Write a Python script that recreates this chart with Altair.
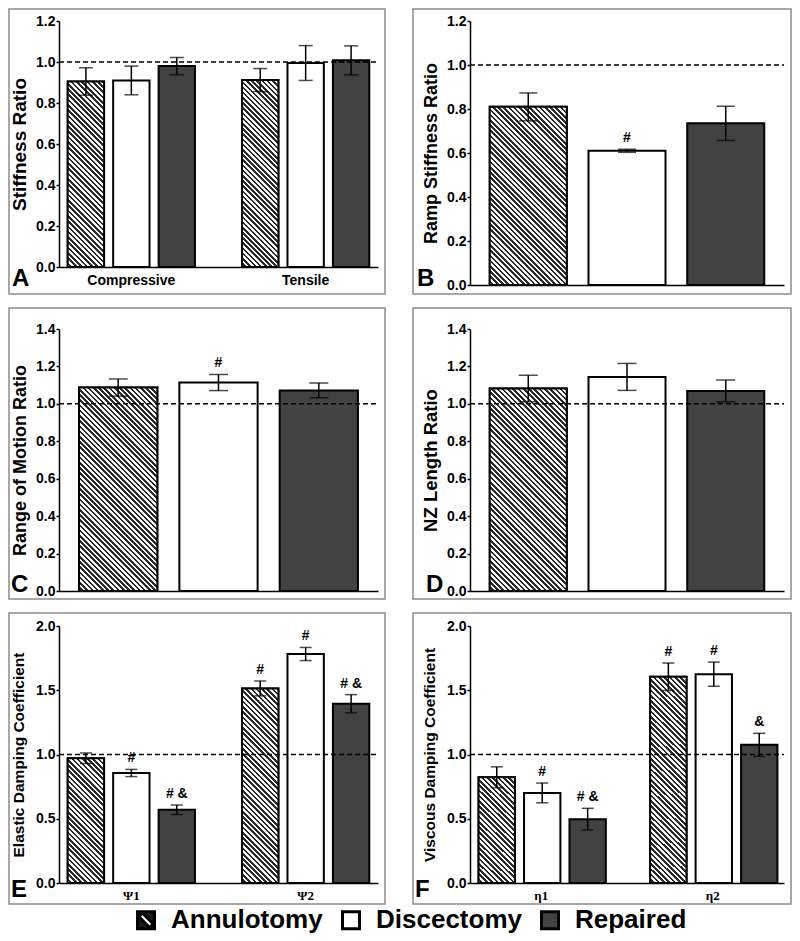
import math
import altair as alt
import pandas as pd

# ---------------- data ----------------
treatments = ["Annulotomy", "Discectomy", "Repaired"]
fill_colors = ["#1a1a1a", "#ffffff", "#424242"]
ref_line = [1.0]

# A  Stiffness ratio
a_groups = ["Compressive", "Tensile"]
a_means = [[0.905, 0.910, 0.980], [0.912, 0.995, 1.008]]
a_errs = [[0.067, 0.070, 0.042], [0.056, 0.085, 0.071]]
a_notes = [["", "", ""], ["", "", ""]]

# B  Ramp stiffness ratio
b_means = [0.810, 0.610, 0.735]
b_errs = [0.063, 0.007, 0.078]
b_notes = ["", "#", ""]

# C  Range of motion ratio
c_means = [1.087, 1.114, 1.072]
c_errs = [0.046, 0.043, 0.040]
c_notes = ["", "#", ""]

# D  NZ length ratio
d_means = [1.082, 1.144, 1.069]
d_errs = [0.071, 0.072, 0.058]
d_notes = ["", "", ""]

# E  Elastic damping coefficient
e_groups = ["Ψ1", "Ψ2"]
e_means = [[0.971, 0.856, 0.570], [1.514, 1.782, 1.395]]
e_errs = [[0.041, 0.028, 0.037], [0.058, 0.051, 0.071]]
e_notes = [["", "#", "# &"], ["#", "#", "# &"]]

# F  Viscous damping coefficient
f_groups = ["η1", "η2"]
f_means = [[0.823, 0.701, 0.497], [1.605, 1.625, 1.075]]
f_errs = [[0.081, 0.077, 0.084], [0.107, 0.094, 0.090]]
f_notes = [["", "#", "# &"], ["#", "#", "&"]]

FONT = "Liberation Sans"

# legend symbols: hatched icon = black square with a white "\" slit
ANN_ICON = ("M-1,-1L1,-1L1,1L-1,1Z"
            "M-0.85,-0.42L0.42,0.85L0.85,0.42L-0.42,-0.85Z")
legend_shapes = [ANN_ICON, "square", "square"]


def build_df(groups, means, errs, notes):
    rows = []
    for gi, g in enumerate(groups):
        for ti, t in enumerate(treatments):
            m = means[gi][ti]
            e = errs[gi][ti]
            rows.append(dict(cat=g, trt=t, mean=m, lo=m - e, hi=m + e, note=notes[gi][ti]))
    return pd.DataFrame(rows)


def hatch(w, h, period=3.7, frac=0.5, dark="#2a2a2a", light="#ffffff"):
    # stripes running "\" in screen space, gradient in bounding-box units
    k = (w + h) / (w * w + h * h)
    x2 = k * w
    y2 = 1 - k * h
    n = max(1, int(round((w + h) / math.sqrt(2) / period)))
    stops = []
    for i in range(n):
        a = round(i / n, 5)
        b = round((i + frac) / n, 5)
        c = round((i + 1) / n, 5)
        stops += [
            {"offset": a, "color": light},
            {"offset": b, "color": light},
            {"offset": b, "color": dark},
            {"offset": c, "color": dark},
        ]
    return {"gradient": "linear", "x1": 0, "y1": 1, "x2": x2, "y2": y2, "stops": stops}


legend_spec = alt.Legend(
    title=None,
    orient="none",
    legendX=74,
    legendY=886,
    direction="horizontal",
    symbolSize=289,
    symbolStrokeColor="black",
    symbolStrokeWidth=3,
    labelFont=FONT,
    labelFontSize=26,
    labelFontWeight="bold",
    labelColor="black",
    labelOffset=12,
    columnPadding=13,
    padding=0,
)

fill_scale = alt.Scale(domain=treatments, range=fill_colors)
shape_scale = alt.Scale(domain=treatments, range=legend_shapes)


def panel(df, grouped, groups, W, H, ymax, ystep, ytitle, ytitle_size, title_pad,
          letter, lx, ly, frame, cap, xfont=FONT, xsize=14, with_legend=False):
    L, R, T, B = frame
    ticks = [round(i * ystep, 2) for i in range(int(round(ymax / ystep)) + 1)]
    yscale = alt.Scale(domain=[0, ymax], nice=False, zero=True)

    if grouped:
        pi, po, pi2 = 0.27, 0.05, 0.2
        xscale = alt.Scale(domain=groups, paddingInner=pi, paddingOuter=po)
        xaxis = alt.Axis(title=None, labelAngle=0, ticks=False, domainColor="black",
                         domainWidth=1.5, labelFont=xfont, labelFontSize=xsize,
                         labelFontWeight="bold", labelColor="black", labelPadding=6)
        step = W / (len(groups) - pi + 2 * po)
        bw = step * (1 - pi) / (3 - pi2) * (1 - pi2)

        def enc(**kw):
            return dict(
                x=alt.X("cat:N", scale=xscale, axis=xaxis, sort=groups),
                xOffset=alt.XOffset("trt:N", scale=alt.Scale(domain=treatments, paddingInner=pi2,
                                                             paddingOuter=0.0), sort=treatments),
                **kw,
            )
    else:
        pi, po = 0.22, 0.2
        xscale = alt.Scale(domain=treatments, paddingInner=pi, paddingOuter=po)
        xaxis = alt.Axis(title=None, labels=False, ticks=False, domainColor="black", domainWidth=1.5)
        step = W / (3 - pi + 2 * po)
        bw = step * (1 - pi)

        def enc(**kw):
            return dict(x=alt.X("trt:N", scale=xscale, axis=xaxis, sort=treatments), **kw)

    yaxis = alt.Axis(title=ytitle, values=ticks, format=".1f", grid=False, domainColor="black",
                     domainWidth=1.5, tickColor="black", tickWidth=1.5, tickSize=3, labelPadding=1,
                     labelFont=FONT, labelFontSize=14, labelFontWeight="bold", labelColor="black",
                     labelFlush=False, titleFont=FONT, titleFontSize=ytitle_size,
                     titleFontWeight="bold", titleColor="black", titlePadding=title_pad)

    def Y(field):
        return alt.Y(field, scale=yscale, axis=yaxis, title=ytitle)

    one = pd.DataFrame({"r": ref_line})

    frame_layer = alt.Chart(one).mark_rect(fillOpacity=0, stroke="#8c8c8c", strokeWidth=1.5).encode(
        x=alt.value(-L), x2=alt.value(W + R), y=alt.value(-T), y2=alt.value(H + B))

    bars = alt.Chart(df).mark_bar(stroke="black", strokeWidth=2).encode(
        **enc(y=Y("mean:Q"),
              fill=alt.Fill("trt:N", scale=fill_scale, legend=legend_spec)))

    layers = [frame_layer, bars]
    ann = df[df["trt"] == treatments[0]]
    for _, row in ann.iterrows():
        h = row["mean"] / ymax * H
        sub = df[(df["cat"] == row["cat"]) & (df["trt"] == row["trt"])]
        layers.append(
            alt.Chart(sub).mark_bar(fill=hatch(bw, h), stroke="black", strokeWidth=2).encode(
                **enc(y=Y("mean:Q"))))

    rule = alt.Chart(one).mark_rule(strokeDash=[5, 3], strokeWidth=1.5, color="black").encode(
        y=Y("r:Q"), x=alt.value(0), x2=alt.value(W))

    err = alt.Chart(df).mark_rule(color="black", strokeWidth=1.5).encode(
        **enc(y=Y("lo:Q"), y2="hi:Q"))
    cap_hi = alt.Chart(df).mark_tick(color="black", thickness=1.5, size=cap).encode(
        **enc(y=Y("hi:Q")))
    cap_lo = alt.Chart(df).mark_tick(color="black", thickness=1.5, size=cap).encode(
        **enc(y=Y("lo:Q")))

    layers += [rule, err, cap_hi, cap_lo]

    notes = df[df["note"] != ""]
    if len(notes):
        layers.append(alt.Chart(notes).mark_text(baseline="bottom", dy=-4, fontSize=14,
                                                 fontWeight="bold", font=FONT, color="black").encode(
            **enc(y=Y("hi:Q"), text="note:N")))

    layers.append(alt.Chart(one).mark_text(text=letter, align="left", baseline="alphabetic",
                                           fontSize=24, fontWeight="bold", font=FONT,
                                           color="black").encode(x=alt.value(lx), y=alt.value(ly)))

    if with_legend:
        # empty layer that only carries the legend icon shapes
        empty = df.iloc[0:0]
        layers.append(alt.Chart(empty).mark_point(filled=True, opacity=1, stroke="black",
                                                  strokeWidth=3).encode(
            x=alt.value(0), y=alt.value(0),
            fill=alt.Fill("trt:N", scale=fill_scale, legend=legend_spec),
            shape=alt.Shape("trt:N", scale=shape_scale, legend=legend_spec)))

    return alt.layer(*layers).properties(width=W, height=H)


WL, WR = 319, 314
FL = (50, 7)
FR = (57, 7)

pA = panel(build_df(a_groups, a_means, a_errs, a_notes), True, a_groups, WL, 246, 1.2, 0.2,
           "Stiffness Ratio", 19, 6, "A", -47, 265, (FL[0], FL[1], 12, 27), 14, with_legend=True)
pB = panel(build_df(["all"], [b_means], [b_errs], [b_notes]), False, None, WR, 264, 1.2, 0.2,
           "Ramp Stiffness Ratio", 18, 6, "B", -53, 265, (FR[0], FR[1], 12, 9), 18)
pC = panel(build_df(["all"], [c_means], [c_errs], [c_notes]), False, None, WL, 262, 1.4, 0.2,
           "Range of Motion Ratio", 18, 6, "C", -48, 263, (FL[0], FL[1], 21, 8), 19)
pD = panel(build_df(["all"], [d_means], [d_errs], [d_notes]), False, None, WR, 262, 1.4, 0.2,
           "NZ Length Ratio", 18.5, 6, "D", -44, 263, (FR[0], FR[1], 21, 8), 19)
pE = panel(build_df(e_groups, e_means, e_errs, e_notes), True, e_groups, WL, 257, 2.0, 0.5,
           "Elastic Damping Coefficient", 15.5, 9, "E", -48, 271, (FL[0], FL[1], 13, 21), 12,
           xfont="Liberation Serif", xsize=13)
pF = panel(build_df(f_groups, f_means, f_errs, f_notes), True, f_groups, WR, 257, 2.0, 0.5,
           "Viscous Damping Coefficient", 15.5, 9, "F", -55, 271, (FR[0], FR[1], 13, 21), 12,
           xfont="Liberation Serif", xsize=13)

chart = alt.vconcat(
    alt.hconcat(pA, pB, spacing=26),
    alt.hconcat(pC, pD, spacing=26),
    alt.hconcat(pE, pF, spacing=26),
    spacing=12,
).properties(padding=0).configure_view(stroke=None)

chart.save("out.html", embed_options={"renderer": "svg", "actions": False})
